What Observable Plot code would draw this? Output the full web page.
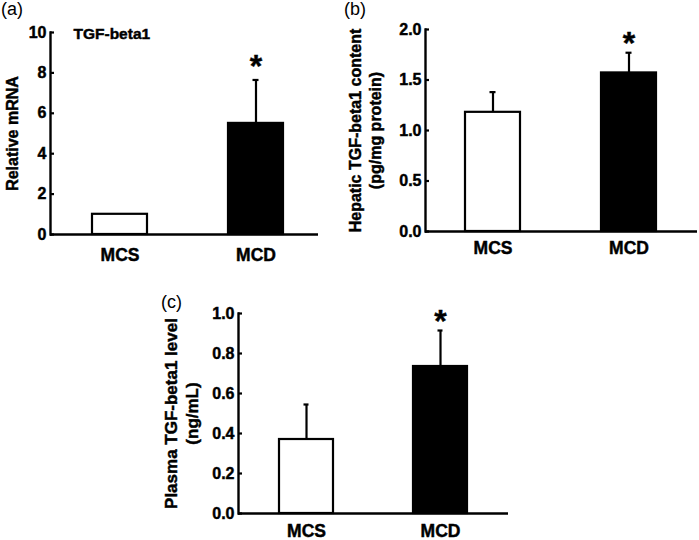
<!DOCTYPE html>
<html>
<head>
<meta charset="utf-8">
<script src="https://cdn.jsdelivr.net/npm/d3@7"></script>
<script src="https://cdn.jsdelivr.net/npm/@observablehq/plot@0.6"></script>
<style>
  body { margin: 0; background: #fff; }
  #wrap { position: relative; width: 699px; height: 540px; background: #fff; font-family: "Liberation Sans", Arial, sans-serif; }
  .panel { position: absolute; }
  .letter { position: absolute; font-size: 18px; line-height: 1.1; color: #000; }
  #wrap svg text { stroke: #000; stroke-width: 0.45px; }
</style>
</head>
<body>
<div id="wrap">
  <div class="letter" style="left:1px;top:0px;">(a)</div>
  <div class="letter" style="left:344px;top:0px;">(b)</div>
  <div class="letter" style="left:161px;top:293px;">(c)</div>
</div>
<script>
// ---- data ----
const groups = ["MCS", "MCD"];
const significant = [false, true];

const mrnaMean = [1.0, 5.5];
const mrnaSD = [0, 2.15];
const mrnaTicks = [0, 2, 4, 6, 8, 10];

const hepMean = [1.18, 1.57];
const hepSD = [0.20, 0.20];
const hepTicks = [0, 0.5, 1.0, 1.5, 2.0];

const plasMean = [0.37, 0.735];
const plasSD = [0.175, 0.18];
const plasTicks = [0, 0.2, 0.4, 0.6, 0.8, 1.0];

const labelA = "Relative mRNA";
const labelB = "Hepatic TGF-beta1 content\n(pg/mg protein)";
const labelC = "Plasma TGF-beta1 level\n(ng/mL)";
const noteA = "TGF-beta1";

function rows(means, sds) {
  return groups.map((g, i) => ({group: g, mean: means[i], sd: sds[i], hi: means[i] + sds[i], sig: significant[i]}));
}

function panel(o) {
  const data = rows(o.means, o.sds);
  const err = data.filter(d => d.sd > 0);
  const sig = data.filter(d => d.sig);
  const plotW = o.width - o.marginLeft - o.marginRight;
  const marks = [
    Plot.barY(data, {x: "group", y: "mean", fill: "group", stroke: "black", strokeWidth: 2.2}),
    Plot.ruleX(err, {x: "group", y1: "mean", y2: "hi", strokeWidth: 2.2}),
    Plot.tickY(err, {x: "group", y: "hi", strokeWidth: 2.2, insetLeft: 24.5, insetRight: 24.5}),
    Plot.text(sig, {x: "group", y: "hi", text: () => "*", lineAnchor: "bottom", dy: o.starDy, fontSize: 32, fontWeight: "bold"}),
    Plot.ruleY(o.ticks, {strokeWidth: 2.2, insetRight: plotW - 4}),
    Plot.ruleY([0], {strokeWidth: 2.4}),
    Plot.frame({anchor: "left", strokeWidth: 2.4}),
    Plot.axisY({ticks: o.ticks, tickFormat: o.fmt, tickSize: 0, tickPadding: 4, fontSize: 16, fontWeight: "bold", label: null}),
    Plot.axisX({tickSize: 0, tickPadding: o.xPad, fontSize: 17.5, fontWeight: "bold", label: null}),
    Plot.text([o.ylabel], {text: d => d, frameAnchor: "left", rotate: -90, dx: o.labelDx, textAnchor: "middle", lineAnchor: "middle", fontSize: o.labelSize, fontWeight: "bold", lineHeight: 1.22})
  ];
  if (o.note) {
    marks.push(Plot.text([o.note], {text: d => d, frameAnchor: "top-left", dx: 23, dy: 2, textAnchor: "start", lineAnchor: "middle", fontSize: 15.5, fontWeight: "bold"}));
  }
  const svg = Plot.plot({
    width: o.width, height: o.height,
    marginLeft: o.marginLeft, marginRight: o.marginRight, marginTop: o.marginTop, marginBottom: o.marginBottom,
    style: {fontFamily: "Liberation Sans, Arial, sans-serif", color: "black", background: "transparent", overflow: "visible"},
    x: {domain: groups, padding: 0.595, paddingOuter: o.paddingOuter, align: o.align},
    y: {domain: o.domain},
    color: {domain: groups, range: ["white", "black"]},
    marks
  });
  const div = document.createElement("div");
  div.className = "panel";
  div.style.left = o.left + "px";
  div.style.top = o.top + "px";
  div.appendChild(svg);
  document.getElementById("wrap").appendChild(div);
}

const f1 = d3.format(".1f");

panel({means: mrnaMean, sds: mrnaSD, ticks: mrnaTicks, fmt: d3.format("d"), domain: [0, 10],
  left: 0, top: 0, width: 340, height: 270, marginLeft: 50, marginRight: 22, marginTop: 32, marginBottom: 36,
  paddingOuter: 0.28, align: 0.55, xPad: 14, ylabel: labelA, labelDx: -39, labelSize: 16, note: noteA, starDy: -3});

panel({means: hepMean, sds: hepSD, ticks: hepTicks, fmt: f1, domain: [0, 2],
  left: 340, top: 0, width: 359, height: 270, marginLeft: 85, marginRight: 2, marginTop: 29, marginBottom: 39,
  paddingOuter: 0.297, align: 0.5, xPad: 10, ylabel: labelB, labelDx: -61, labelSize: 16, starDy: 1});

panel({means: plasMean, sds: plasSD, ticks: plasTicks, fmt: f1, domain: [0, 1],
  left: 150, top: 270, width: 360, height: 270, marginLeft: 88, marginRight: 2, marginTop: 43, marginBottom: 27,
  paddingOuter: 0.3, align: 0.5, xPad: 11, ylabel: labelC, labelDx: -58, labelSize: 17, starDy: 1});
</script>
</body>
</html>
